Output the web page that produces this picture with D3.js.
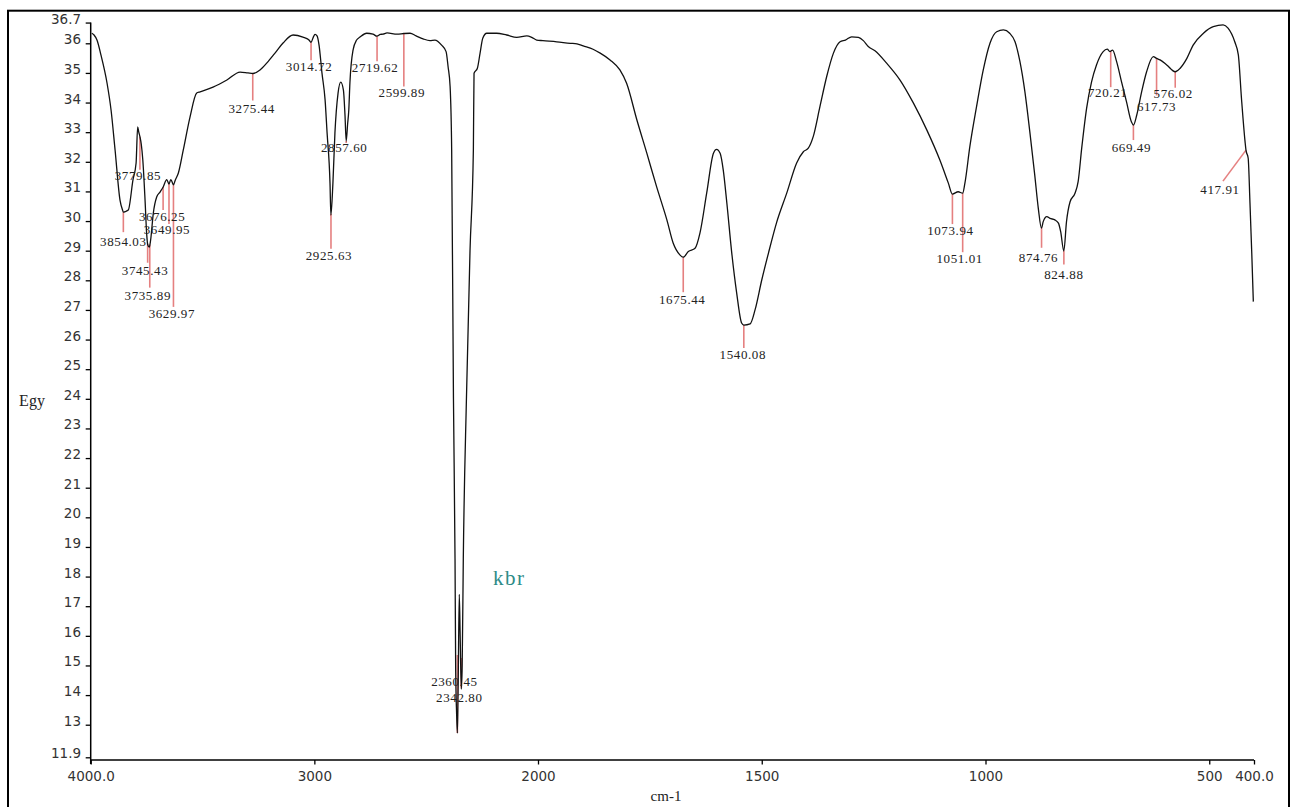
<!DOCTYPE html>
<html>
<head>
<meta charset="utf-8">
<script src="https://cdn.jsdelivr.net/npm/d3@7"></script>
<style>
  body { margin: 0; background: #fff; }
  svg { display: block; }
</style>
</head>
<body>
<svg id="chart" width="1298" height="807"></svg>
<script>
// IR spectrum (KBr pellet): wavenumber in cm-1, descending, with the recorded signal
const wavenumbers = [
  3995, 3985, 3972, 3954, 3927, 3909, 3891, 3869, 3858, 3854, 3846, 3832, 3811, 3797, 3790, 3785,
  3780, 3774, 3767, 3757, 3750, 3745, 3738, 3732, 3720, 3705, 3690, 3676, 3660, 3650, 3642, 3636,
  3630, 3622, 3608, 3586, 3556, 3526, 3511, 3453, 3391, 3332, 3297, 3275, 3243, 3212, 3176, 3140,
  3095, 3051, 3025, 3015, 3005, 2997, 2988, 2979, 2966, 2952, 2943, 2930, 2926, 2917, 2908, 2894,
  2882, 2870, 2863, 2857.6, 2851, 2846, 2841, 2827, 2811, 2796, 2766, 2738, 2720, 2705, 2693, 2675,
  2630, 2600, 2572, 2545, 2514, 2483, 2461, 2431, 2411, 2402, 2393, 2386, 2378, 2371, 2368, 2364,
  2360.45, 2357, 2352, 2348, 2343, 2339, 2334, 2320, 2304, 2289, 2286, 2271, 2259, 2247, 2229, 2185,
  2140, 2095, 2050, 2028, 2006, 1989, 1958, 1928, 1913, 1899, 1877, 1861, 1839, 1817, 1802, 1779,
  1757, 1735, 1712, 1698, 1683, 1675.4, 1664, 1649, 1638, 1623, 1608, 1601, 1593, 1586, 1578, 1567,
  1556, 1545, 1540, 1526, 1515, 1500, 1485, 1467, 1444, 1422, 1407, 1396, 1385, 1370, 1355, 1340,
  1325, 1313, 1299, 1284, 1273, 1262, 1247, 1221, 1191, 1161, 1131, 1102, 1083, 1074, 1061, 1051,
  1046, 1035, 1020, 1005, 990, 975, 960, 946, 934, 923, 912, 901, 890, 882, 875, 871,
  863, 856, 845, 837, 832, 825, 819, 811, 800, 793, 785, 774, 763, 752, 737, 728,
  722, 716, 707, 696, 685, 674, 669.5, 662, 651, 640, 625, 617.7, 610, 595, 576, 565,
  550, 536, 513, 491, 469, 458, 443, 435, 428, 420, 418, 413, 409, 405, 401.5
];
const transmittance = [
  36.34, 36.28, 36.11, 35.60, 34.66, 33.75, 32.40, 30.71, 30.38, 30.30, 30.32, 30.37, 31.39, 31.96, 33.18, 33.00,
  32.85, 32.60, 32.06, 30.71, 29.60, 29.20, 29.12, 29.36, 30.27, 30.81, 30.98, 31.15, 31.40, 31.25, 31.40, 31.32,
  31.22, 31.38, 31.62, 32.40, 33.51, 34.32, 34.36, 34.52, 34.76, 35.03, 35.00, 34.98, 35.10, 35.34, 35.67, 36.01,
  36.28, 36.21, 36.12, 36.03, 36.20, 36.30, 36.25, 35.94, 35.00, 34.09, 32.97, 31.28, 30.20, 31.28, 32.97, 34.32,
  34.69, 34.42, 33.58, 32.70, 33.30, 33.75, 34.66, 35.77, 36.11, 36.21, 36.34, 36.31, 36.24, 36.30, 36.31, 36.35,
  36.31, 36.33, 36.34, 36.25, 36.15, 36.09, 36.11, 35.94, 35.72, 35.21, 34.54, 32.40, 24.00, 18.60, 14.80, 13.40,
  12.72, 14.30, 17.40, 16.00, 14.20, 15.00, 18.60, 24.00, 29.00, 32.40, 34.99, 35.16, 35.67, 36.17, 36.34, 36.34,
  36.28, 36.20, 36.25, 36.20, 36.11, 36.09, 36.05, 36.00, 35.98, 35.91, 35.80, 35.67, 35.44, 35.10, 34.65, 33.41,
  32.30, 31.16, 30.04, 29.26, 28.86, 28.78, 28.97, 29.08, 29.60, 30.95, 32.29, 32.42, 32.29, 31.72, 30.61, 28.92,
  27.57, 26.56, 26.49, 26.53, 27.00, 28.01, 28.92, 29.94, 30.95, 31.96, 32.34, 32.46, 32.85, 33.86, 34.87, 35.66,
  36.05, 36.11, 36.22, 36.20, 36.09, 35.89, 35.75, 35.33, 34.76, 33.98, 33.07, 32.06, 31.28, 30.91, 30.99, 30.94,
  31.28, 32.51, 33.86, 35.10, 36.00, 36.39, 36.45, 36.34, 36.05, 35.38, 34.37, 33.02, 31.56, 30.43, 29.76, 29.98,
  30.15, 30.09, 30.04, 29.93, 29.64, 28.99, 29.98, 30.65, 30.94, 31.33, 32.46, 33.81, 34.70, 35.27, 35.72, 35.80,
  35.72, 35.77, 35.38, 34.70, 34.03, 33.35, 33.24, 33.58, 34.37, 35.04, 35.55, 35.49, 35.44, 35.27, 35.04, 35.16,
  35.49, 35.94, 36.34, 36.56, 36.62, 36.51, 36.05, 35.61, 34.14, 32.68, 32.40, 32.12, 30.61, 28.92, 27.28
];

// Picked peak positions (cm-1)
const peakWavenumbers = [
  3854.03, 3779.85, 3745.43, 3735.89, 3676.25, 3649.95, 3629.97, 3275.44, 3014.72, 2925.63,
  2857.60, 2719.62, 2599.89, 2360.45, 2342.80, 1675.44, 1540.08, 1073.94, 1051.01, 874.76,
  824.88, 720.21, 669.49, 617.73, 576.02, 417.91
];

const xTickValues = [4000, 3000, 2000, 1500, 1000, 500, 400];
const yTickValues = [36.7, 36, 35, 34, 33, 32, 31, 30, 29, 28, 27, 26, 25, 24, 23, 22, 21, 20,
                     19, 18, 17, 16, 15, 14, 13, 11.9];
const sampleName = "kbr";
const xAxisTitle = "cm-1";
const yAxisTitle = "Egy";

// Peak label placement, px relative to the peak point: [lineDx, lineDy, textDx, textDy]
const peakLabelLayout = [
  [0, 20, 0, 34], [0, 33, -2, 43], [0, 19, -2.6, 31], [0, 43, -2, 55], [0, 23, -1, 34],
  [0, 40, -2, 50], [0, 122, -1.6, 133], [0, 27, -1, 39], [0, 18, -2, 29], [0, 35, -2, 46],
  [0, 2, -2, 11], [0, 25, -2, 36], [0, 53, -2, 63], [0, -78, -3, -47], [0, -30, -2, 14],
  [0, 35, -1, 47], [0, 23, -1, 34], [0, 30, -2, 41], [0, 59, -3, 70], [0, 20, -3, 34],
  [0, 14, 0, 29], [0, 36, -3, 46], [0, 15, -2, 27], [0, 37, 0, 53], [0, 16, -2, 26],
  [-23, 31, -26, 44]
];

const svg = d3.select("#chart");

// Split abscissa: the region below 2000 cm-1 is expanded twofold
const x = d3.scaleLinear().domain([4000, 2000, 400]).range([90.7, 538, 1254]);
const y = d3.scaleLinear().domain([11.9, 36.7]).range([757.3, 22.56]);

// outer frame
svg.append("rect")
  .attr("x", 8).attr("y", 10.7).attr("width", 1281).attr("height", 810)
  .attr("fill", "none").attr("stroke", "#000").attr("stroke-width", 2);

const tickFont = "'DejaVu Sans', Verdana, sans-serif";
const serif = "'Liberation Serif', 'Times New Roman', serif";

// y axis
const yAxis = svg.append("g")
  .attr("transform", "translate(90.7,0)")
  .call(d3.axisLeft(y).tickValues(yTickValues).tickSize(5).tickPadding(4.7)
        .tickFormat(d => Number.isInteger(d) ? d : d.toFixed(1)));
yAxis.select(".domain").remove();
yAxis.selectAll(".tick line").attr("stroke", "#000").attr("stroke-width", 1.3);
yAxis.selectAll(".tick text")
  .attr("dy", "0").attr("y", 0.5)
  .attr("font-family", tickFont).attr("font-size", 13.5).attr("fill", "#333");

// x axis
const xAxis = svg.append("g")
  .attr("transform", "translate(0,760)")
  .call(d3.axisBottom(x).tickValues(xTickValues).tickSize(4.5).tickPadding(7)
        .tickFormat(d => (d === 4000 || d === 400) ? d.toFixed(1) : d));
xAxis.select(".domain").remove();
xAxis.selectAll(".tick line").attr("stroke", "#000").attr("stroke-width", 1.3);
xAxis.selectAll(".tick text")
  .attr("font-family", tickFont).attr("font-size", 13.5).attr("fill", "#333");

// axis lines
svg.append("line")
  .attr("x1", x(4000)).attr("x2", x(4000)).attr("y1", y(36.7)).attr("y2", 764)
  .attr("stroke", "#000").attr("stroke-width", 1.5);
svg.append("line")
  .attr("x1", x(4000)).attr("x2", x(400)).attr("y1", 760).attr("y2", 760)
  .attr("stroke", "#000").attr("stroke-width", 1.5);

// axis titles
svg.append("text").attr("x", 32).attr("y", 406)
  .attr("text-anchor", "middle").attr("font-family", serif).attr("font-size", 16)
  .attr("fill", "#222").text(yAxisTitle);
svg.append("text").attr("x", 666).attr("y", 801)
  .attr("text-anchor", "middle").attr("font-family", serif).attr("font-size", 15)
  .attr("fill", "#222").text(xAxisTitle);

// sample tag
svg.append("text").attr("x", 493).attr("y", 585)
  .attr("font-family", serif).attr("font-size", 21).attr("letter-spacing", 1.5)
  .attr("fill", "#2e8b87").text(sampleName);

// linear interpolation of the spectrum at a given wavenumber
function valueAt(wn) {
  for (let i = 0; i < wavenumbers.length - 1; i++) {
    const a = wavenumbers[i], b = wavenumbers[i + 1];
    if (wn <= a && wn >= b) {
      const t = (a - wn) / (a - b);
      return transmittance[i] + t * (transmittance[i + 1] - transmittance[i]);
    }
  }
  return transmittance[transmittance.length - 1];
}

const peaks = peakWavenumbers.map((wn, i) => ({ wn, v: valueAt(wn), layout: peakLabelLayout[i] }));

// peak marker lines (drawn beneath the trace)
const markerG = svg.append("g");
markerG.selectAll("line").data(peaks).enter().append("line")
  .attr("x1", d => x(d.wn)).attr("y1", d => y(d.v))
  .attr("x2", d => x(d.wn) + d.layout[0]).attr("y2", d => y(d.v) + d.layout[1])
  .attr("stroke", "#e06a6a").attr("stroke-width", 1.6).attr("stroke-opacity", 0.85);

// spectrum trace
const spectrum = wavenumbers.map((wn, i) => [wn, transmittance[i]]);
svg.append("path")
  .datum(spectrum)
  .attr("fill", "none").attr("stroke", "#111").attr("stroke-width", 1.3)
  .attr("stroke-linejoin", "round")
  .attr("d", d3.line().x(d => x(d[0])).y(d => y(d[1])).curve(d3.curveMonotoneX));

// peak labels
svg.append("g").selectAll("text").data(peaks).enter().append("text")
  .attr("x", d => x(d.wn) + d.layout[2]).attr("y", d => y(d.v) + d.layout[3])
  .attr("text-anchor", "middle")
  .attr("font-family", serif).attr("font-size", 13).attr("letter-spacing", 0.6)
  .attr("fill", "#222")
  .text(d => d.wn.toFixed(2));
</script>
</body>
</html>
